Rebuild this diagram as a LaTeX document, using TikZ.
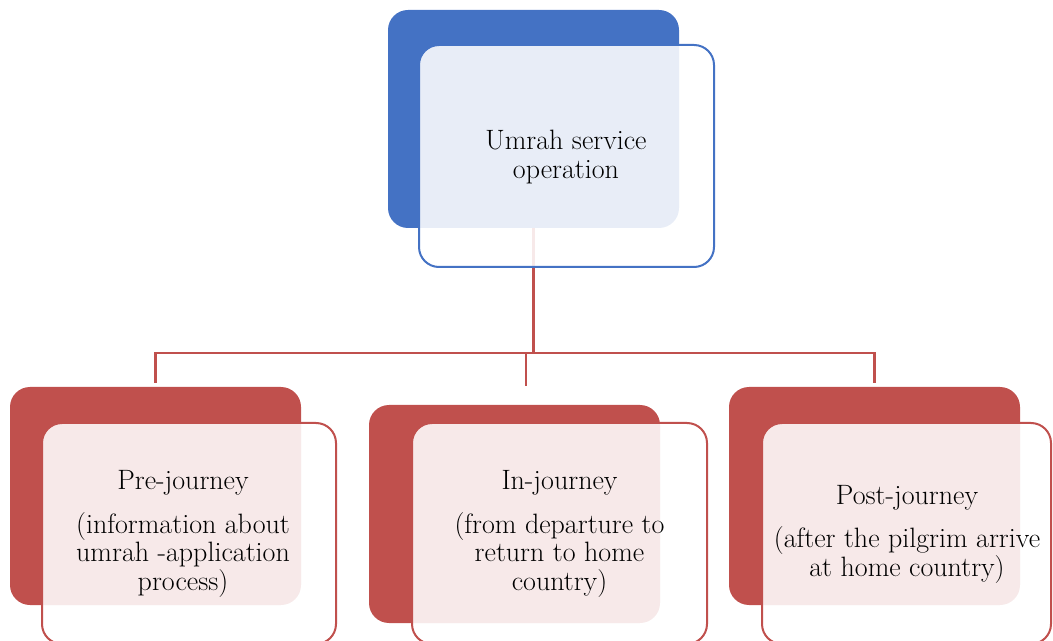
\documentclass[tikz,border=0pt]{standalone}
\usetikzlibrary{calc}
\definecolor{blu}{HTML}{4472C4}
\definecolor{rd}{HTML}{C0504D}
\pgfdeclarelayer{bg}
\pgfsetlayers{bg,main}
\begin{document}
\begin{tikzpicture}[x=0.75pt,y=-0.75pt,
  backbox/.style 2 args={rectangle, rounded corners=15pt, inner sep=0pt, outer sep=0pt,
    minimum width=#1*0.75pt, minimum height=#2*0.75pt},
  frontbox/.style 2 args={rectangle, rounded corners=15pt, inner sep=0pt, outer sep=0pt,
    minimum width=#1*0.75pt, minimum height=#2*0.75pt, fill=white, fill opacity=0.88,
    draw opacity=1, line width=1.5pt},
  txt/.style={align=center, inner sep=0pt, font=\fontsize{21}{21.5}\selectfont},
  conn/.style={draw=rd, line width=1.7pt}]
\useasboundingbox (0,0) rectangle (1053,641);

% back boxes
\node[backbox={291}{218}, fill=blu] (tb) at (533.5,119) {};
\node[backbox={291}{218}, fill=rd] (lb) at (155.5,496) {};
\node[backbox={291}{218}, fill=rd] (mb) at (514.5,514) {};
\node[backbox={291}{218}, fill=rd] (rb) at (874.5,496) {};

% front boxes
\node[frontbox={295}{222}, draw=blu] (tf) at (566.5,156) {};
\node[frontbox={294}{221}, draw=rd] (lf) at (189,533.5) {};
\node[frontbox={295}{221}, draw=rd] (mf) at (559.5,533.5) {};
\node[frontbox={289}{221}, draw=rd] (rf) at (906.5,533.5) {};

% texts
\node[txt] (tt) at (566,157) {Umrah service\\operation};
\node[txt] (lt) at (183,534) {Pre-journey\\[11pt](information about\\umrah -application\\process)};
\node[txt] (mt) at (559.5,534) {In-journey\\[11pt](from departure to\\return to home\\country)};
\node[txt] (rt) at (907,534) {Post-journey\\[11pt](after the pilgrim arrive\\at home country)};

% connectors
\begin{pgfonlayer}{bg}
\coordinate (hb) at (533,353);
\coordinate (lj) at ($(lb.north)+(0,-4)$);
\coordinate (rj) at ($(rb.north)+(0,-4)$);
\coordinate (mj) at (526,386);
\draw[conn] (tb.south) -- (tb.south |- hb);
\draw[conn] (lj) |- (hb) -| (rj);
\draw[conn] (mj) -- (mj |- hb);
\end{pgfonlayer}
\end{tikzpicture}
\end{document}
